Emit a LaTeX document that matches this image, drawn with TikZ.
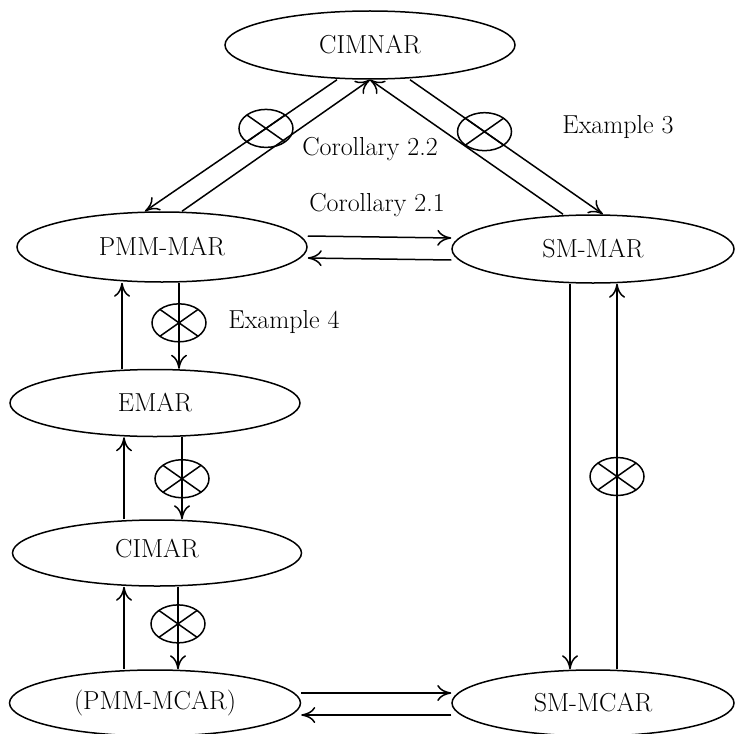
\documentclass[tikz,border=0pt]{standalone}
\usetikzlibrary{shapes.geometric,arrows.meta}
\begin{document}
\begin{tikzpicture}[x=1pt,y=-1pt,
  font=\fontsize{26}{31}\selectfont,
  line width=1.5pt,
  st/.style={ellipse,draw,inner sep=0pt,minimum height=68pt},
  arr/.style={-{Computer Modern Rightarrow[length=14pt,width=16pt]}},
  xc/.style={ellipse,draw,inner sep=0pt,minimum width=54pt,minimum height=38pt,
    path picture={\draw[-] (path picture bounding box.south west) -- (path picture bounding box.north east)
                   (path picture bounding box.north west) -- (path picture bounding box.south east);}},
  lbl/.style={anchor=base,inner sep=0pt}]
\useasboundingbox (0,0) rectangle (735,733);

% states
\node[st,minimum width=290pt] (cimnar) at (370,45) {CIMNAR};
\node[st,minimum width=290pt,minimum height=70pt] (pmm) at (162,247) {PMM-MAR};
\node[st,minimum width=282pt] (sm) at (593,249) {SM-MAR};
\node[st,minimum width=290pt,minimum height=67pt] (emar) at (155,403) {EMAR};
\node[st,minimum width=289pt,minimum height=66pt,text depth=10pt] (cimar) at (157,553) {CIMAR};
\node[st,minimum width=291pt,minimum height=66pt] (pmmc) at (155,703) {(PMM-MCAR)};
\node[st,minimum width=282pt,minimum height=66pt] (smc) at (593,703) {SM-MCAR};

% labels
\node[lbl] (l1) at (370,155) {Corollary 2.2};
\node[lbl] (l2) at (377,211) {Corollary 2.1};
\node[lbl] (l3) at (618,133) {Example 3};
\node[lbl] (l4) at (284,328) {Example 4};

% end points
\coordinate (a1) at ([xshift=-33pt]cimnar.south);
\coordinate (a2) at ([xshift=-17pt]pmm.north);
\coordinate (a3) at ([xshift=20pt]pmm.north);
\coordinate (b1) at ([xshift=-30pt]sm.north);
\coordinate (b2) at ([xshift=40pt]cimnar.south);
\coordinate (b3) at ([xshift=10pt]sm.north);
\coordinate (p1) at ([xshift=-33pt]emar.north);
\coordinate (p2) at ([xshift=17pt]pmm.south);
\coordinate (e1) at ([xshift=-33pt]cimar.north);
\coordinate (e2) at ([xshift=27pt]emar.south);
\coordinate (m1) at ([xshift=-31pt]pmmc.north);
\coordinate (m2) at ([xshift=21pt]cimar.south);
\coordinate (s1) at ([xshift=-23pt]sm.south);
\coordinate (s2) at ([xshift=24pt]smc.north);

% CIMNAR connections
\draw[arr] (a1) -- (a2);
\draw[arr] (a3) -- (cimnar.south);
\draw[arr] (b1) -- (cimnar.south);
\draw[arr] (b2) -- (b3);
\path (a1) -- node[xc,pos=0.37] (x1) {} (a2);
\path (b2) -- node[xc,pos=0.386] (x2) {} (b3);

% PMM-MAR <-> SM-MAR
\draw[arr] ([yshift=11pt]pmm.east) -- ([yshift=11pt]sm.west);
\draw[arr] ([yshift=-11pt]sm.west) -- ([yshift=-11pt]pmm.east);

% PMM-MAR <-> EMAR
\draw[arr] (p1) -- (p1 |- pmm.south);
\draw[arr] (p2) -- (p2 |- emar.north);
\path (p2) -- node[xc,pos=0.466] (x3) {} (p2 |- emar.north);

% EMAR <-> CIMAR
\draw[arr] (e1) -- (e1 |- emar.south);
\draw[arr] (e2) -- (e2 |- cimar.north);
\path (e2) -- node[xc,pos=0.506] (x4) {} (e2 |- cimar.north);

% CIMAR <-> PMM-MCAR
\draw[arr] (m1) -- (m1 |- cimar.south);
\draw[arr] (m2) -- (m2 |- pmmc.north);
\path (m2) -- node[xc,pos=0.45] (x5) {} (m2 |- pmmc.north);

% SM-MAR <-> SM-MCAR
\draw[arr] (s1) -- (s1 |- smc.north);
\draw[arr] (s2) -- (s2 |- sm.south);
\path (s2) -- node[xc,pos=0.50] (x6) {} (s2 |- sm.south);

% PMM-MCAR <-> SM-MCAR
\draw[arr] ([yshift=10pt]pmmc.east) -- ([yshift=10pt]smc.west);
\draw[arr] ([yshift=-12pt]smc.west) -- ([yshift=-12pt]pmmc.east);
\end{tikzpicture}
\end{document}
